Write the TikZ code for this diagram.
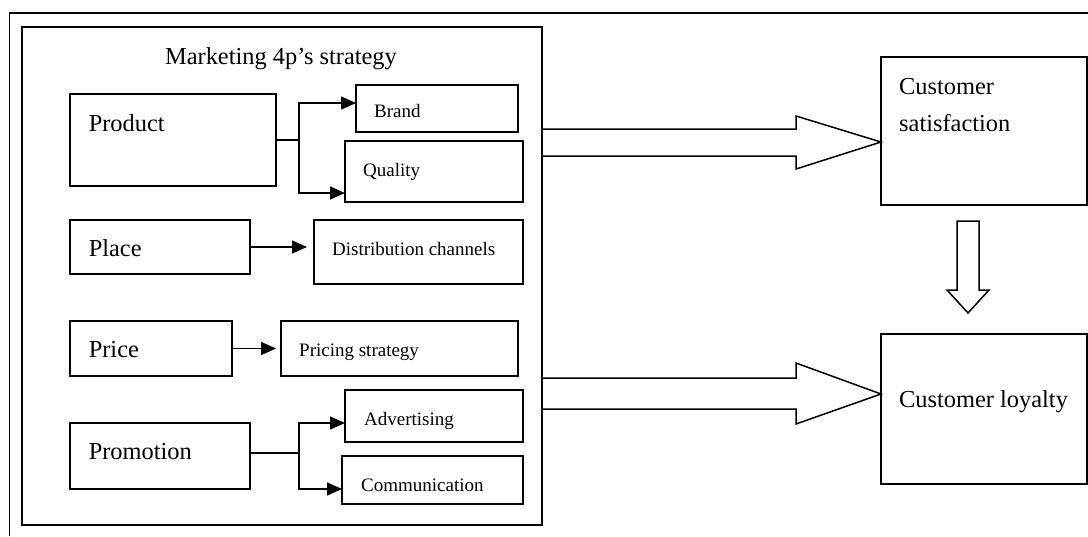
\documentclass[tikz,border=0pt]{standalone}
\usepackage{fontspec}
\setmainfont{Liberation Serif}
\usetikzlibrary{arrows.meta,calc}
\begin{document}
\begin{tikzpicture}[x=1pt,y=-1pt,
  box/.style={draw=black,line width=1.5pt,inner sep=0pt,outer sep=0pt,rectangle},
  bigtxt/.style={anchor=base west,inner sep=0pt,font=\fontsize{24.4}{29}\selectfont},
  smalltxt/.style={anchor=base west,inner sep=0pt,font=\fontsize{19}{23}\selectfont},
  conn/.style={line width=1.5pt,-{Triangle[length=15pt,width=13pt]}},
  plainconn/.style={line width=1.5pt},
  hollow/.style={draw=black,line width=1.5pt,line join=miter}]
\useasboundingbox (0,0) rectangle (1088,536);
\fill[white] (0,0) rectangle (1088,536);
% outer border (partly cut by the page edge)
\draw[line width=1.5pt] (9.6,536) -- (9.6,13) -- (1090,13);
% marketing box
\node[box,minimum width=520pt,minimum height=498pt] (mk) at (282,276) {};
\node[anchor=base,inner sep=0pt,font=\fontsize{24.4}{29}\selectfont] (title) at (281,64.5) {Marketing 4p’s strategy};
% left boxes
\node[box,minimum width=206pt,minimum height=92pt] (product) at (173,140) {};
\node[box,minimum width=180pt,minimum height=54pt] (place) at (160,247) {};
\node[box,minimum width=162pt,minimum height=55pt] (price) at (151,348.5) {};
\node[box,minimum width=180pt,minimum height=66pt] (promo) at (160,456) {};
% right boxes
\node[box,minimum width=162pt,minimum height=47pt] (brand) at (437,108.5) {};
\node[box,minimum width=178pt,minimum height=61pt] (quality) at (434,171.5) {};
\node[box,minimum width=209pt,minimum height=64pt] (dist) at (418.5,252) {};
\node[box,minimum width=237pt,minimum height=55pt] (pricing) at (399.5,348.5) {};
\node[box,minimum width=178pt,minimum height=52pt] (adv) at (434,416) {};
\node[box,minimum width=181pt,minimum height=48pt] (comm) at (432.5,480) {};
% customer boxes
\node[box,minimum width=206pt,minimum height=148pt] (cs) at (984,131) {};
\node[box,minimum width=206pt,minimum height=150pt] (cl) at (984,409) {};
% texts
\node[bigtxt] (tproduct) at (88.6,131) {Product};
\node[bigtxt] (tplace) at (88.6,256) {Place};
\node[bigtxt] (tprice) at (88.6,357) {Price};
\node[bigtxt] (tpromo) at (88.6,459) {Promotion};
\node[smalltxt] (tbrand) at (374,117) {Brand};
\node[smalltxt] (tquality) at (363,176) {Quality};
\node[smalltxt] (tdist) at (332,255) {Distribution channels};
\node[smalltxt] (tpricing) at (299,356) {Pricing strategy};
\node[smalltxt] (tadv) at (364,425) {Advertising};
\node[smalltxt] (tcomm) at (361,491) {Communication};
\node[bigtxt] (tcs1) at (899,94) {Customer};
\node[bigtxt] (tcs2) at (899,131) {satisfaction};
\node[bigtxt] (tcl) at (899,407) {Customer loyalty};
% product connectors
\coordinate (j1) at ([xshift=23pt]product.east);
\draw[plainconn] (product.east) -- (j1);
\draw[conn] (j1) |- ([yshift=5.5pt]brand.west);
\draw[conn] (j1) |- ([yshift=-21.5pt]quality.west);
% place and price
\draw[conn] (place.east) -- ($(place.east -| dist.west)+(-7,0)$);
\draw[conn] (price.east) -- ($(price.east -| pricing.west)+(-5,0)$);
% promotion connectors
\coordinate (j2) at ([xshift=49pt,yshift=3pt]promo.east);
\draw[plainconn] ([yshift=3pt]promo.east) -- (j2);
\draw[conn] (j2) |- ([yshift=-7pt]adv.west);
\draw[conn] (j2) |- ([yshift=-9pt]comm.west);
% big hollow arrow to satisfaction
\coordinate (t1) at ([yshift=-11pt]cs.west);
\path (t1) ++(-85,-13) coordinate (a1) ++(0,-13) coordinate (a2)
      (t1) ++(-85,27) coordinate (a3) ++(0,-13) coordinate (a4);
\draw[hollow] (mk.east |- a1) -- (a1) -- (a2) -- (t1) -- (a3) -- (a4) -- (mk.east |- a4);
% big hollow arrow to loyalty
\coordinate (t2) at ([yshift=15pt]cl.west);
\path (t2) ++(-85,-16) coordinate (b1) ++(0,-15) coordinate (b2)
      (t2) ++(-85,30) coordinate (b3) ++(0,-15) coordinate (b4);
\draw[hollow] (mk.east |- b1) -- (b1) -- (b2) -- (t2) -- (b3) -- (b4) -- (mk.east |- b4);
% down arrow satisfaction -> loyalty
\coordinate (t3) at ([xshift=-16pt,yshift=21pt]cl.north);
\draw[hollow] (t3) -- ++(-21,-23) -- ++(10,0) -- ++(0,-69) -- ++(22,0) -- ++(0,69) -- ++(10,0) -- cycle;
\end{tikzpicture}
\end{document}
